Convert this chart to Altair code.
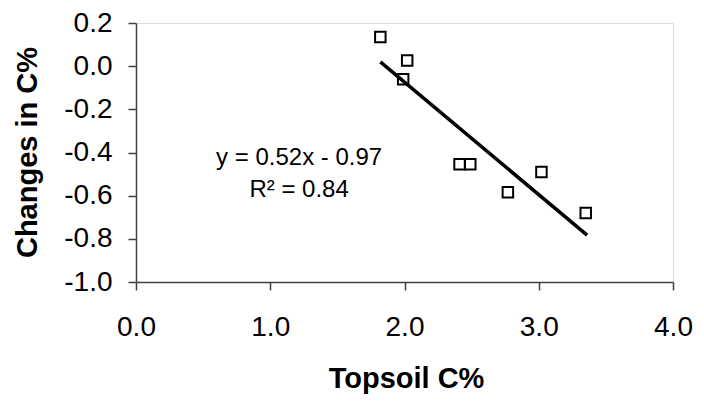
import altair as alt
import pandas as pd

# Observed data (Topsoil C% vs change in C%)
topsoil_c = [1.82, 2.02, 1.99, 2.41, 2.49, 2.77, 3.02, 3.35]
change_c = [0.135, 0.026, -0.061, -0.454, -0.454, -0.584, -0.490, -0.680]

# Trend line endpoints as drawn
trend_x = [1.82, 3.36]
trend_y = [0.02, -0.783]

# Annotation
eq_text = ["y = 0.52x - 0.97", "R\u00b2 = 0.84"]
eq_x = [1.215, 1.215]
eq_y = [-0.459, -0.606]

FONT = "Liberation Sans"
MINUS_FIX = "replace(datum.label, '\u2212', '-')"

pts = pd.DataFrame({"x": topsoil_c, "y": change_c})
trend = pd.DataFrame({"x": trend_x, "y": trend_y})
ann = pd.DataFrame({"x": eq_x, "y": eq_y, "t": eq_text})

xscale = alt.Scale(domain=[0, 4], nice=False, zero=False)
yscale = alt.Scale(domain=[-1.0, 0.2], nice=False, zero=False)

xaxis = alt.Axis(
    title="Topsoil C%", values=[0, 1, 2, 3, 4], format=".1f", grid=False,
    labelExpr=MINUS_FIX, labelFlush=False,
    labelFont=FONT, labelFontSize=28, labelColor="black",
    labelBaseline="alphabetic", labelPadding=45, tickSize=8,
    tickColor="#404040", domainColor="#404040", domainWidth=1.5, tickWidth=1.5,
    titleFont=FONT, titleFontSize=29, titleFontWeight="bold", titleColor="black",
    titleX=270, titleY=105, titleBaseline="alphabetic", titleAnchor="middle", titleAlign="center",
)
yaxis = alt.Axis(
    title="Changes in C%", values=[-1.0, -0.8, -0.6, -0.4, -0.2, 0.0, 0.2], format=".1f", grid=False,
    labelExpr=MINUS_FIX, labelFlush=False,
    labelFont=FONT, labelFontSize=28, labelColor="black", labelPadding=16, tickSize=8,
    labelBaseline="middle",
    tickColor="#404040", domainColor="#404040", domainWidth=1.5, tickWidth=1.5,
    titleFont=FONT, titleFontSize=29, titleFontWeight="bold", titleColor="black",
    titleX=-100, titleY=129, titleBaseline="alphabetic", titleAngle=-90, titleAlign="center",
)

points = alt.Chart(pts).mark_point(
    shape="square", filled=False, size=110, color="black", strokeWidth=2, opacity=1
).encode(
    x=alt.X("x:Q", scale=xscale, axis=xaxis),
    y=alt.Y("y:Q", scale=yscale, axis=yaxis),
)

line = alt.Chart(trend).mark_line(color="black", strokeWidth=3.5).encode(
    x=alt.X("x:Q", scale=xscale),
    y=alt.Y("y:Q", scale=yscale),
)

text = alt.Chart(ann).mark_text(
    font=FONT, fontSize=24, color="black", align="center", baseline="alphabetic"
).encode(
    x=alt.X("x:Q", scale=xscale),
    y=alt.Y("y:Q", scale=yscale),
    text="t:N",
)

chart = alt.layer(line, points, text).properties(
    width=537, height=259,
    autosize=alt.AutoSizeParams(type="none"),
    padding={"left": 128, "top": 15, "right": 23, "bottom": 125},
).configure_view(stroke="#808080", strokeWidth=1.5).configure(background="white")

chart.save("out.html", embed_options={"renderer": "svg", "actions": False})
